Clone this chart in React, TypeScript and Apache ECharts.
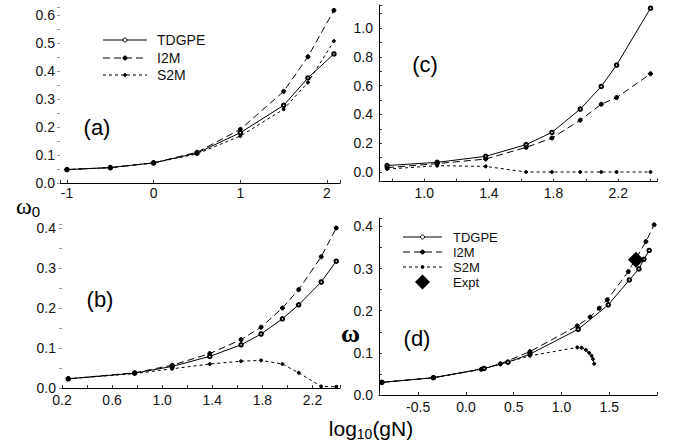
import React, { useEffect, useRef } from 'react';
import * as echarts from 'echarts';

// ---- Panel (a) ----
const aX = [-1, -0.5, 0, 0.5, 1, 1.5, 1.78, 2.08];
const aTDGPE = [0.048, 0.055, 0.072, 0.107, 0.18, 0.278, 0.376, 0.462];
const aI2M = [0.048, 0.055, 0.072, 0.11, 0.192, 0.328, 0.452, 0.618];
const aS2M = [0.048, 0.055, 0.072, 0.104, 0.168, 0.264, 0.36, 0.508];

// ---- Panel (b) ----
const bX = [0.25, 0.78, 1.08, 1.38, 1.63, 1.79, 1.96, 2.09, 2.27, 2.39];
const bTDGPE = [0.023, 0.037, 0.054, 0.079, 0.108, 0.135, 0.173, 0.208, 0.265, 0.317];
const bI2M = [0.023, 0.038, 0.057, 0.086, 0.121, 0.152, 0.2, 0.246, 0.328, 0.4];
const bS2M = [0.023, 0.036, 0.048, 0.06, 0.067, 0.069, 0.06, 0.038, 0.004, 0.003];

// ---- Panel (c) ----
const cX = [0.77, 1.08, 1.38, 1.63, 1.79, 1.965, 2.095, 2.19, 2.4];
const cTDGPE = [0.045, 0.067, 0.109, 0.19, 0.275, 0.437, 0.594, 0.743, 1.138];
const cI2M = [0.03, 0.058, 0.09, 0.171, 0.236, 0.36, 0.471, 0.517, 0.682];
const cS2M = [0.02, 0.044, 0.039, 0, 0, 0, 0, 0, 0];

// ---- Panel (d) ----
const dXTDGPE = [-0.88, -0.34, 0.19, 0.44, 0.67, 1.175, 1.49, 1.71, 1.81, 1.863, 1.918];
const dTDGPE = [0.03, 0.041, 0.063, 0.078, 0.097, 0.156, 0.214, 0.273, 0.299, 0.322, 0.343];
const dXI2M = [-0.88, -0.34, 0.16, 0.36, 0.67, 1.165, 1.3, 1.395, 1.48, 1.7, 1.884, 1.97];
const dI2M = [0.03, 0.041, 0.061, 0.074, 0.103, 0.164, 0.185, 0.206, 0.226, 0.293, 0.364, 0.404];
const dXS2M = [-0.88, -0.34, 0.16, 0.36, 0.67, 1.165, 1.21, 1.256, 1.29, 1.315, 1.33, 1.343];
const dS2M = [0.03, 0.041, 0.061, 0.073, 0.093, 0.113, 0.112, 0.107, 0.1, 0.093, 0.085, 0.074];
const exptX = [1.78];
const exptY = [0.321];

// ---- Tick labels ----
const aXTicks = ['-1', '0', '1', '2'];
const aYTicks = ['0.0', '0.1', '0.2', '0.3', '0.4', '0.5', '0.6'];
const bXTicks = ['0.2', '0.6', '1.0', '1.4', '1.8', '2.2'];
const bYTicks = ['0.0', '0.1', '0.2', '0.3', '0.4'];
const cXTicks = ['1.0', '1.4', '1.8', '2.2'];
const cYTicks = ['0.0', '0.2', '0.4', '0.6', '0.8', '1.0'];
const dXTicks = ['-0.5', '0.0', '0.5', '1.0', '1.5'];
const dYTicks = ['0.0', '0.1', '0.2', '0.3', '0.4'];

const seriesNames = ['TDGPE', 'I2M', 'S2M', 'Expt'];

const FONT = 'Liberation Sans, Arial, sans-serif';

function zip(xs: number[], ys: number[]) {
  return xs.map((x, i) => [x, ys[i]]);
}

function labelFmt(ticks: string[]) {
  return (v: number) => {
    const t = ticks.find((s) => Math.abs(parseFloat(s) - v) < 1e-6);
    return t === undefined ? '' : t;
  };
}

function makeAxis(
  idx: number,
  min: number,
  max: number,
  step: number,
  ticks: string[],
  showLine: boolean,
  tickInside: boolean,
  margin: number
) {
  return {
    type: 'value',
    gridIndex: idx,
    min,
    max,
    minInterval: step,
    maxInterval: step,
    splitNumber: 20,
    splitLine: { show: false },
    axisLine: { show: showLine, onZero: false, lineStyle: { color: '#000', width: 1 } },
    axisTick: {
      show: true,
      inside: tickInside,
      length: 3,
      lineStyle: { color: showLine ? '#333' : '#999', width: 1 },
    },
    axisLabel: {
      show: true,
      margin,
      fontSize: 14,
      fontFamily: FONT,
      color: '#111',
      formatter: labelFmt(ticks),
      showMinLabel: true,
      showMaxLabel: true,
    },
  };
}

const solid = { color: '#000', width: 1, type: 'solid' };
const longDash = { color: '#000', width: 1, type: [7, 4] };
const shortDash = { color: '#000', width: 1, type: [3, 3] };

function lineSeries(name: string, idx: number, data: number[][], kind: number) {
  const ls = kind === 0 ? solid : kind === 1 ? longDash : shortDash;
  return {
    name,
    type: 'line',
    xAxisIndex: idx,
    yAxisIndex: idx,
    data,
    showSymbol: true,
    symbol: kind === 0 ? 'emptyCircle' : 'circle',
    symbolSize: kind === 0 ? 3.5 : kind === 2 ? 3 : 4,
    itemStyle: { color: '#000', borderColor: '#000', borderWidth: 1, opacity: 1 },
    lineStyle: ls,
    emphasis: { disabled: true },
    clip: false,
  };
}

function legendGroup(
  x1: number,
  x2: number,
  tx: number,
  rows: number[],
  fontSize: number,
  withExpt: boolean
) {
  const els: any[] = [];
  const mid = (x1 + x2) / 2;
  const dashes = [null, [7, 4], [3, 3]];
  for (let i = 0; i < 3; i++) {
    const y = rows[i];
    els.push({
      type: 'line',
      shape: { x1, y1: y, x2, y2: y },
      style: { stroke: '#000', lineWidth: 1, lineDash: dashes[i] || undefined },
    });
    els.push({
      type: 'circle',
      shape: { cx: mid, cy: y, r: i === 2 ? 1.5 : 2 },
      style: { fill: i === 0 ? '#fff' : '#000', stroke: '#000', lineWidth: 1 },
    });
    els.push({
      type: 'text',
      x: tx,
      y,
      style: {
        text: seriesNames[i],
        font: `${fontSize}px ${FONT}`,
        fill: '#111',
        textVerticalAlign: 'middle',
        textAlign: 'left',
      },
    });
  }
  if (withExpt) {
    const y = rows[3];
    els.push({
      type: 'polygon',
      shape: { points: [[mid, y - 7.5], [mid + 7.5, y], [mid, y + 7.5], [mid - 7.5, y]] },
      style: { fill: '#000' },
    });
    els.push({
      type: 'text',
      x: tx,
      y,
      style: {
        text: seriesNames[3],
        font: `${fontSize}px ${FONT}`,
        fill: '#111',
        textVerticalAlign: 'middle',
        textAlign: 'left',
      },
    });
  }
  return els;
}

function panelLabel(text: string, x: number, y: number) {
  return {
    type: 'text',
    x,
    y,
    style: {
      text,
      font: `22px ${FONT}`,
      fill: '#000',
      textAlign: 'center',
      textVerticalAlign: 'middle',
    },
  };
}

export default function App() {
  const ref = useRef<HTMLDivElement>(null);

  useEffect(() => {
    if (!ref.current) return;
    const chart = echarts.init(ref.current, null, { renderer: 'svg' });

    const option: any = {
      animation: false,
      backgroundColor: '#fff',
      grid: [
        { left: 60, top: 7, width: 280, height: 176, outerBoundsMode: 'none' },
        { left: 62, top: 224, width: 278, height: 164, outerBoundsMode: 'none' },
        { left: 379, top: 5, width: 278, height: 176.5, outerBoundsMode: 'none' },
        { left: 379, top: 218, width: 278, height: 177, outerBoundsMode: 'none' },
      ],
      xAxis: [
        makeAxis(0, -1.08, 2.15, 1, aXTicks, true, true, 3),
        makeAxis(1, 0.2, 2.42, 0.2, bXTicks, true, true, 5),
        makeAxis(2, 0.72, 2.44, 0.2, cXTicks, true, true, 4),
        makeAxis(3, -0.91, 2.0, 0.5, dXTicks, true, true, 5),
      ],
      yAxis: [
        makeAxis(0, 0, 0.63, 0.05, aYTicks, false, false, 5),
        makeAxis(1, 0, 0.41, 0.05, bYTicks, false, false, 6),
        makeAxis(2, -0.066, 1.16, 0.1, cYTicks, true, true, 6),
        makeAxis(3, 0, 0.42, 0.05, dYTicks, true, true, 6),
      ],
      series: [
        lineSeries('TDGPE', 0, zip(aX, aTDGPE), 0),
        lineSeries('I2M', 0, zip(aX, aI2M), 1),
        lineSeries('S2M', 0, zip(aX, aS2M), 2),
        lineSeries('TDGPE', 1, zip(bX, bTDGPE), 0),
        lineSeries('I2M', 1, zip(bX, bI2M), 1),
        lineSeries('S2M', 1, zip(bX, bS2M), 2),
        lineSeries('TDGPE', 2, zip(cX, cTDGPE), 0),
        lineSeries('I2M', 2, zip(cX, cI2M), 1),
        lineSeries('S2M', 2, zip(cX, cS2M), 2),
        lineSeries('TDGPE', 3, zip(dXTDGPE, dTDGPE), 0),
        lineSeries('I2M', 3, zip(dXI2M, dI2M), 1),
        lineSeries('S2M', 3, zip(dXS2M, dS2M), 2),
        {
          name: 'Expt',
          type: 'scatter',
          xAxisIndex: 3,
          yAxisIndex: 3,
          data: zip(exptX, exptY),
          symbol: 'diamond',
          symbolSize: 16,
          itemStyle: { color: '#000', opacity: 1 },
          emphasis: { disabled: true },
          z: 5,
        },
      ],
      graphic: [
        panelLabel('(a)', 97, 127),
        panelLabel('(b)', 100, 299),
        panelLabel('(c)', 425, 64),
        panelLabel('(d)', 417, 338),
        ...legendGroup(103, 147, 157, [40, 58, 75], 14, false),
        ...legendGroup(403, 442, 453, [237, 252, 267, 282], 13, true),
        {
          type: 'text',
          x: 16,
          y: 206,
          style: {
            text: '{w|ω}{s|0}',
            textVerticalAlign: 'middle',
            rich: {
              w: { fontSize: 24, fontFamily: 'Liberation Serif, DejaVu Serif, serif', lineHeight: 26, verticalAlign: 'middle', fill: '#000' },
              s: { fontSize: 15, fontFamily: FONT, lineHeight: 15, verticalAlign: 'bottom', fill: '#000' },
            },
          },
        },
        {
          type: 'text',
          x: 341,
          y: 333,
          style: {
            text: 'ω',
            font: `bold 26px Liberation Serif, DejaVu Serif, serif`,
            fill: '#000',
            textVerticalAlign: 'middle',
          },
        },
        {
          type: 'text',
          x: 371,
          y: 428,
          style: {
            text: '{a|log}{b|10}{a|(gN)}',
            textAlign: 'center',
            textVerticalAlign: 'middle',
            rich: {
              a: { fontSize: 21, fontFamily: FONT, lineHeight: 26, verticalAlign: 'middle', fill: '#000' },
              b: { fontSize: 14, fontFamily: FONT, lineHeight: 14, verticalAlign: 'bottom', fill: '#000' },
            },
          },
        },
      ],
    };

    chart.setOption(option);
    return () => chart.dispose();
  }, []);

  return (
    <div
      ref={ref}
      style={{ position: 'absolute', left: 0, top: 0, width: 677, height: 445, background: '#fff' }}
    />
  );
}
